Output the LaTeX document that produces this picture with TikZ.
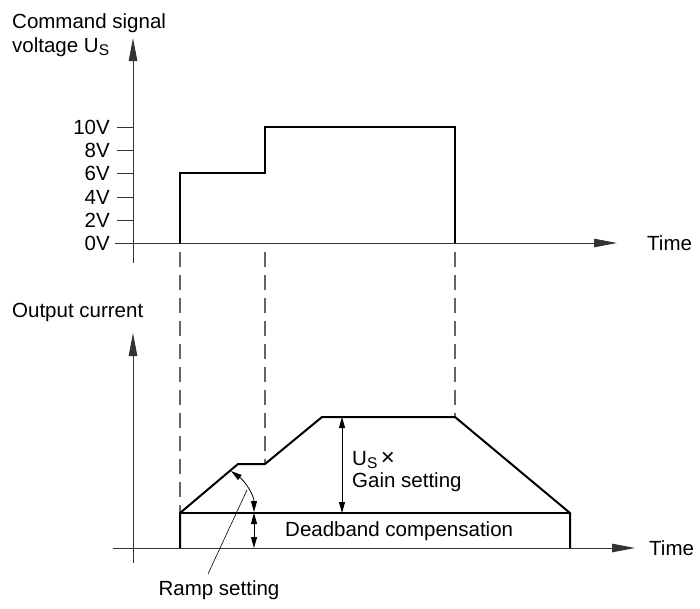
\documentclass[tikz,border=0pt]{standalone}
\usepackage{fontspec}
\setmainfont{Liberation Sans}
\usetikzlibrary{arrows.meta}

\newcommand{\Us}{U\raisebox{-0.35ex}{\fontsize{15.5}{15.5}\selectfont S}}

\begin{document}
\begin{tikzpicture}[
    x=1pt, y=-1pt,
    % Styles
    every node/.style={font=\fontsize{20.5}{24}\selectfont, inner sep=0pt},
    axis/.style={line width=1pt, black!80, -{Triangle[length=23pt,width=8.5pt]}},
    signal/.style={line width=2pt, line join=miter},
    guide/.style={line width=1.2pt, black!60, dash pattern=on 15pt off 8pt},
    dim/.style={line width=0.8pt, {Triangle[length=11pt,width=6pt]}-{Triangle[length=11pt,width=6pt]}},
    tickmark/.style={line width=1pt, black!80},
    lbl/.style={anchor=base west, align=left},
]
\useasboundingbox (0,0) rectangle (700,608);

% TOP: command signal voltage
\node[lbl] (cmd) at (12,28) {Command signal};
\node[lbl] (volt) at (12,52) {voltage \Us};
\draw[axis] (133,263) -- (133,38);
\draw[axis] (115,243) -- (617,243);
\node[anchor=west] (time1) at (647,243) {Time};

\foreach \v/\y in {0/243,2/220,4/197,6/173,8/150,10/127} {
    \draw[tickmark] (117,\y) -- (133,\y);
    \node[anchor=east] (tick\v) at (110,\y) {\v V};
}

\draw[signal] (180,243) -- (180,173) -- (265,173) -- (265,127) -- (455,127) -- (455,243);

% Guides down to the output
\draw[guide] (180,252) -- (180,513);
\draw[guide] (265,252) -- (265,464);
\draw[guide] (455,252) -- (455,417);

% BOTTOM: output current
\node[lbl] (out) at (12,317) {Output current};
\draw[axis] (133,563) -- (133,333);
\draw[axis] (113,548) -- (635,548);
\node[anchor=west] (time2) at (649,548) {Time};

\draw[line width=1.2pt] (180,513) -- (570,513);
\draw[signal] (180,548) -- (180,513) -- (238,464) -- (265,464) -- (322,417) -- (455,417) -- (570,513) -- (570,548);

% Gain
\draw[dim] (342,417) -- (342,513);
\node[lbl] (us) at (352,465) {\Us\,{\fontsize{24}{24}\selectfont ×}};
\node[lbl] (gain) at (352,487) {Gain setting};

% Deadband
\draw[dim] (254,513) -- (254,548);
\node[anchor=west] (dead) at (285,531) {Deadband compensation};

% Ramp
\draw[dim] (231,471) .. controls (246,482) and (254,496) .. (254,512);
\node (ramp) at (219,590) {Ramp setting};
\coordinate (rampend) at (247,490);
\draw[line width=0.6pt] (208,574) -- (rampend);

\end{tikzpicture}
\end{document}
